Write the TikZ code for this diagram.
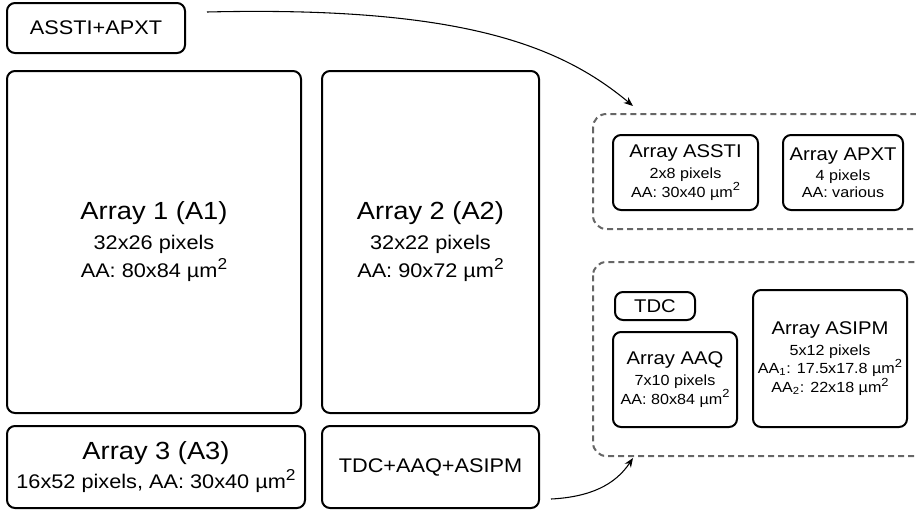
\documentclass[tikz,border=0pt]{standalone}
\usepackage{fontspec}
\setmainfont[FakeStretch=1.1]{Liberation Sans}
\usetikzlibrary{arrows.meta}

\newcommand{\fbig}{\fontsize{18.6}{22}\selectfont}
\newcommand{\fmid}{\fontsize{14.8}{21}\selectfont}
\newcommand{\ftitle}{\fontsize{13.8}{15}\selectfont}
\newcommand{\fsml}{\fontsize{11}{12.5}\selectfont}
\newcommand{\umsq}{µm\raisebox{.42em}{\scalebox{.8}{2}}}

\tikzset{
    blk/.style={draw, rounded corners=6pt, line width=1.5pt, align=center, inner sep=0pt},
    sz/.style 2 args={minimum width=#1*0.75pt, minimum height=#2*0.75pt},
    grp/.style={draw=black!60, dash pattern=on 4.5pt off 3pt, line width=1.5pt, rounded corners=10pt},
    link/.style={-{Stealth[length=7pt,width=5.5pt]}, line width=0.8pt},
}

\begin{document}
\begin{tikzpicture}[x=0.75pt,y=-0.75pt]
    \clip (0,0) rectangle (916,511);

    % left side: the chip
    \node[blk, sz={178}{50}, font=\fmid] (sys) at (96,28) {ASSTI+APXT};

    \node[blk, sz={294}{342}, font=\fmid] (arrA) at (154,242)
        {{\fbig Array 1 (A1)}\\[1.5pt] 32x26 pixels\\ AA: 80x84 \umsq};
    \node[blk, sz={217}{342}, font=\fmid] (arrB) at (430.5,242)
        {{\fbig Array 2 (A2)}\\[1.5pt] 32x22 pixels\\ AA: 90x72 \umsq};
    \node[blk, sz={298}{82}, font=\fmid] (arrC) at (156,467)
        {{\fbig Array 3 (A3)}\\[1pt] 16x52 pixels, AA: 30x40 \umsq};
    \node[blk, sz={217}{82}, font=\fmid] (tdcall) at (430.5,467) {TDC+AAQ+ASIPM};

    % right side: zoomed groups
    \draw[grp] (593,114) rectangle (960,229);
    \draw[grp] (593,262) rectangle (960,456);

    \node[blk, sz={145}{75}, font=\fsml] (assti) at (685.5,172.5)
        {{\ftitle Array ASSTI}\\[3pt] 2x8 pixels\\ AA: 30x40 \umsq};
    \node[blk, sz={120}{75}, font=\fsml] (apxt) at (843,172.5)
        {{\ftitle Array APXT}\\[3pt] 4 pixels\\ AA: various};

    \node[blk, sz={80}{28}, font=\ftitle] (tdc) at (655,306) {TDC};
    \node[blk, sz={124}{95}, font=\fsml] (aaq) at (675,379.5)
        {{\ftitle Array AAQ}\\[3pt] 7x10 pixels\\ AA: 80x84 \umsq};
    \node[blk, sz={154}{137}, font=\fsml] (asipm) at (830,358.5)
        {{\ftitle Array ASIPM}\\[3pt] 5x12 pixels\\ AA\textsubscript{1}: 17.5x17.8 \umsq\\ AA\textsubscript{2}: 22x18 \umsq};

    % connectors
    \coordinate (inA) at (633,106);
    \coordinate (inB) at (633,458);
    \draw[link] ([shift={(21,-16)}]sys.east) .. controls (460,6) and (560,45) .. (inA);
    \draw[link] ([shift={(11,32)}]tdcall.east) .. controls (590,497) and (615,485) .. (inB);
\end{tikzpicture}
\end{document}
